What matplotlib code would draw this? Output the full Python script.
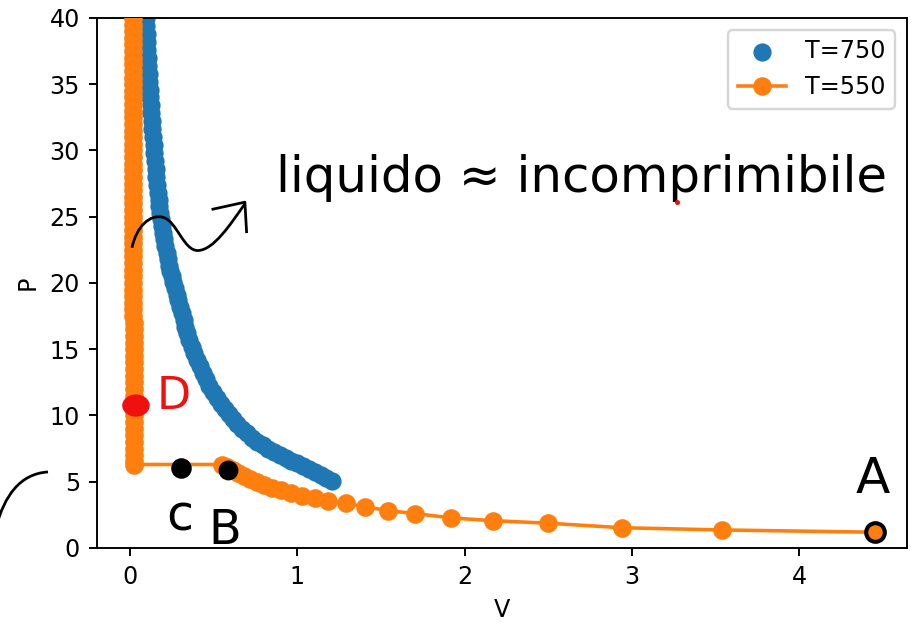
"""
plot.py

Van der Waals isotherms (P vs V) for T=750 and T=550 with hand-drawn notes
(points A, B, C, D and the "liquido ~ incomprimibile" remark).
"""
import numpy as np
import matplotlib.pyplot as plt
from matplotlib.path import Path
from matplotlib.patches import PathPatch, Ellipse

# T=750 isotherm (scatter)
v_750 = [0.091, 0.093, 0.096, 0.099, 0.102, 0.104, 0.107, 0.110, 0.113, 0.116,
         0.119, 0.122, 0.125, 0.128, 0.131, 0.134, 0.137, 0.141, 0.145, 0.149,
         0.153, 0.157, 0.161, 0.166, 0.171, 0.176, 0.181, 0.187, 0.193, 0.199,
         0.205, 0.212, 0.219, 0.226, 0.234, 0.242, 0.251, 0.260, 0.270, 0.280,
         0.290, 0.299, 0.310, 0.321, 0.332, 0.343, 0.354, 0.368, 0.383, 0.399,
         0.416, 0.434, 0.452, 0.475, 0.497, 0.520, 0.544, 0.566, 0.590, 0.614,
         0.640, 0.668, 0.698, 0.730, 0.762, 0.795, 0.828, 0.862, 0.896, 0.930,
         0.965, 1.000, 1.036, 1.070, 1.105, 1.140, 1.172, 1.205]
p_750 = [40.6, 40.0, 39.4, 38.8, 38.2, 37.6, 37.0, 36.4, 35.8, 35.2,
         34.6, 34.0, 33.4, 32.8, 32.2, 31.6, 31.0, 30.4, 29.8, 29.2,
         28.6, 28.0, 27.4, 26.8, 26.3, 25.8, 25.3, 24.8, 24.3, 23.8,
         23.3, 22.8, 22.3, 21.8, 21.3, 20.9, 20.5, 20.1, 19.6, 19.1,
         18.7, 18.2, 17.7, 17.2, 16.7, 16.2, 15.7, 15.2, 14.7, 14.2,
         13.7, 13.2, 12.75, 12.2, 11.75, 11.3, 10.9, 10.5, 10.1, 9.72,
         9.35, 9.0, 8.65, 8.32, 8.03, 7.76, 7.5, 7.25, 7.0, 6.78,
         6.58, 6.38, 6.18, 5.96, 5.72, 5.48, 5.26, 5.03]

# T=550 isotherm: liquid branch, then (after the plateau) gas branch
p_550_liq = [41.0, 40.5, 40.0, 39.5, 39.0, 38.5, 38.0, 37.5, 37.0, 36.5,
             36.0, 35.5, 35.0, 34.5, 34.0, 33.5, 33.0, 32.5, 32.0, 31.5,
             31.0, 30.5, 30.0, 29.5, 29.0, 28.5, 28.0, 27.5, 27.0, 26.5,
             26.0, 25.5, 25.0, 24.5, 24.0, 23.5, 23.0, 22.5, 22.0, 21.5,
             21.0, 20.5, 20.0, 19.5, 19.0, 18.5, 18.0, 17.5, 17.0, 16.5,
             16.0, 15.5, 15.0, 14.5, 14.0, 13.5, 13.0, 12.5, 12.0, 11.5,
             11.0, 10.5, 10.0, 9.5, 9.0, 8.5, 8.0, 7.5, 7.0, 6.6, 6.3]
v_550_liq = [0.018, 0.018, 0.018, 0.018, 0.018, 0.018, 0.018, 0.018, 0.018, 0.018,
             0.019, 0.019, 0.019, 0.019, 0.019, 0.019, 0.019, 0.019, 0.019, 0.019,
             0.019, 0.019, 0.020, 0.020, 0.020, 0.020, 0.020, 0.020, 0.020, 0.020,
             0.020, 0.020, 0.020, 0.020, 0.020, 0.020, 0.021, 0.021, 0.021, 0.021,
             0.021, 0.021, 0.021, 0.021, 0.021, 0.021, 0.021, 0.021, 0.022, 0.022,
             0.022, 0.022, 0.022, 0.022, 0.022, 0.022, 0.022, 0.022, 0.023, 0.023,
             0.023, 0.023, 0.023, 0.023, 0.024, 0.024, 0.024, 0.024, 0.025, 0.025,
             0.025]
v_550_gas = [0.550, 0.580, 0.615, 0.645, 0.680, 0.720, 0.760, 0.800, 0.850, 0.905,
             0.960, 1.030, 1.106, 1.185, 1.291, 1.405, 1.540, 1.704, 1.920, 2.172,
             2.500, 2.939, 3.537, 4.453]
p_550_gas = [6.30, 6.08, 5.86, 5.64, 5.42, 5.20, 4.98, 4.76, 4.55, 4.34,
             4.13, 3.93, 3.75, 3.57, 3.37, 3.12, 2.82, 2.60, 2.27, 2.06,
             1.87, 1.53, 1.36, 1.19]

# hand-marked states (V, P)
point_labels = ['A', 'B', 'C', 'D']
point_v = [4.453, 0.588, 0.305, 0.036]
point_p = [1.19, 5.89, 6.02, 10.75]

DPI = 172
fig = plt.figure(figsize=(911 / DPI, 622 / DPI), dpi=DPI)
ax = fig.add_axes([0.1061, 0.119, 0.8892, 0.8521])

ax.scatter(v_750, p_750, s=44, color='#1f77b4', label='T=750', zorder=2)
ax.plot(v_550_liq + v_550_gas, p_550_liq + p_550_gas, '-o', color='#ff7f0e',
        markersize=6.8, lw=1.5, label='T=550', zorder=3)

ax.set_xlim(-0.199, 4.643)
ax.set_ylim(0, 40)
ax.set_xlabel('V')
ax.set_ylabel('P')
ax.legend(loc='upper right')

# --- hand-drawn notes ---
ink = dict(color='black', clip_on=False, zorder=6)
red = '#f01010'

# black scribbled dots on A, B, C
ax.plot(point_v[0], point_p[0], 'o', ms=7.8, mfc='none', mec='black', mew=1.7, **ink)
ax.plot(point_v[1], point_p[1], 'o', ms=7.3, mfc='black', mec='black', **ink)
ax.plot(point_v[2], point_p[2], 'o', ms=7.6, mfc='black', mec='black', **ink)
# red dot on D
ax.add_patch(Ellipse((point_v[3], point_p[3]), 0.15, 1.5, color=red, zorder=6))

ax.text(4.441, 5.21, point_labels[0], fontsize=21, ha='center', va='center', **ink)
ax.text(0.568, 1.30, point_labels[1], fontsize=20, ha='center', va='center', **ink)
ax.text(0.299, 2.34, point_labels[2].lower(), fontsize=20.5, ha='center', va='center', **ink)
ax.text(0.260, 11.4, point_labels[3], fontsize=18.5, ha='center', va='center',
        color=red, clip_on=False, zorder=6)

ax.text(2.70, 26.9, 'liquido ≈ incomprimibile', fontsize=20.9,
        ha='center', va='baseline', **ink)
ax.plot(3.27, 26.1, 'o', ms=1.1, color=red, zorder=6)

# wavy arrow pointing from the liquid branch to the note
wave = Path([(0.012, 22.66), (0.04, 24.3), (0.12, 25.2), (0.197, 24.96),
             (0.28, 24.7), (0.32, 22.4), (0.408, 22.45),
             (0.50, 22.5), (0.60, 24.4), (0.687, 25.98)],
            [Path.MOVETO] + [Path.CURVE4] * 9)
ax.add_patch(PathPatch(wave, fill=False, lw=1.15, ec='black', zorder=6))
ax.plot([0.496, 0.687, 0.697], [25.57, 26.1, 23.87], color='black', lw=1.15, zorder=6)

# stray stroke at the bottom-left, outside the axes
stroke = Path([(-0.80, 1.6), (-0.75, 3.9), (-0.66, 5.6), (-0.49, 5.74)],
              [Path.MOVETO, Path.CURVE4, Path.CURVE4, Path.CURVE4])
ax.add_patch(PathPatch(stroke, fill=False, lw=1.15, ec='black', clip_on=False, zorder=6))

fig.savefig('out.png', dpi=DPI)
